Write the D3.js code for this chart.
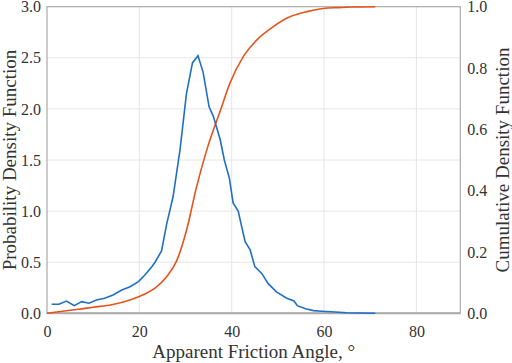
<!DOCTYPE html>
<html><head><meta charset="utf-8">
<script src="https://cdn.jsdelivr.net/npm/d3@7"></script>
<style>body{margin:0;background:#fff}svg{display:block}</style>
</head><body><svg id="c" width="512" height="363"></svg>
<script>
const xTicks = [0, 20, 40, 60, 80];
const pdfTicks = [0, 0.5, 1.0, 1.5, 2.0, 2.5, 3.0];
const cdfTicks = [0, 0.2, 0.4, 0.6, 0.8, 1.0];
const pdfX = [1.0,2.6,4.2,5.9,7.5,9.1,10.7,12.5,14.3,16.2,18.0,19.8,21.2,22.7,23.4,24.8,25.9,27.3,28.8,30.2,31.5,32.7,33.8,35.1,36.0,37.5,38.4,39.5,40.3,41.4,42.9,44.0,45.0,46.5,47.9,49.7,51.9,53.5,54.2,56.0,57.7,59.5,62.4,64.9,67.8,71.1];
const pdfY = [0.088,0.088,0.12,0.075,0.114,0.098,0.13,0.147,0.18,0.228,0.26,0.31,0.375,0.456,0.50,0.61,0.87,1.14,1.60,2.15,2.45,2.52,2.36,2.02,1.93,1.70,1.50,1.32,1.08,1.00,0.70,0.62,0.456,0.39,0.29,0.21,0.147,0.12,0.075,0.045,0.026,0.02,0.013,0.006,0.003,0.0];
const cdfX = [0,3,6.8,10,14.0,18.3,21.2,23.4,25.9,28.1,30.2,32.4,34.6,37.6,39.6,42.5,45.4,49.0,52.6,56.3,59.8,63,66,71.1];
const cdfY = [0,0.006,0.013,0.02,0.028,0.045,0.063,0.082,0.119,0.172,0.27,0.413,0.533,0.664,0.75,0.837,0.891,0.935,0.967,0.984,0.994,0.997,0.999,1.0];

const FONT = '"Liberation Serif", monospace';
const svg = d3.select("#c");
const L = 47, R = 460.3, T = 6.7, B = 313.3;
const x = d3.scaleLinear().domain([0, 89.5]).range([L, R]);
const yL = d3.scaleLinear().domain([0, 3]).range([B, T]);
const yR = d3.scaleLinear().domain([0, 1]).range([B, T]);

// grid
svg.append("g").selectAll("line").data(xTicks.filter(d => d > 0)).join("line")
  .attr("x1", d => x(d)).attr("x2", d => x(d)).attr("y1", T).attr("y2", B)
  .attr("stroke", "#e6e6e6").attr("stroke-width", 1);
svg.append("g").selectAll("line").data(pdfTicks.filter(d => d > 0 && d < 3)).join("line")
  .attr("x1", L).attr("x2", R).attr("y1", d => yL(d)).attr("y2", d => yL(d))
  .attr("stroke", "#e6e6e6").attr("stroke-width", 1);

// frame
svg.append("rect").attr("x", L).attr("y", T).attr("width", R - L).attr("height", B - T)
  .attr("fill", "none").attr("stroke", "#aaaaaa").attr("stroke-width", 1.2);
svg.append("line").attr("x1", L).attr("x2", R).attr("y1", B).attr("y2", B)
  .attr("stroke", "#aaaaaa").attr("stroke-width", 2);

// axes (labels only)
const ax = svg.append("g").attr("transform", `translate(0,${B})`)
  .call(d3.axisBottom(x).tickValues(xTicks).tickSize(0).tickPadding(12).tickFormat(d3.format("d")));
const al = svg.append("g").attr("transform", `translate(${L},0)`)
  .call(d3.axisLeft(yL).tickValues(pdfTicks).tickSize(0).tickPadding(6).tickFormat(d3.format(".1f")));
const ar = svg.append("g").attr("transform", `translate(${R},0)`)
  .call(d3.axisRight(yR).tickValues(cdfTicks).tickSize(0).tickPadding(7).tickFormat(d3.format(".1f")));
[ax, al, ar].forEach(g => {
  g.select(".domain").remove();
  g.attr("font-family", null).attr("font-size", null);
  g.selectAll("text").style("font-family", FONT).style("font-size", "16px").attr("fill", "#333");
});

// lines
const pdfData = pdfX.map((d, i) => [d, pdfY[i]]);
const cdfData = cdfX.map((d, i) => [d, cdfY[i]]);
svg.append("path").datum(cdfData)
  .attr("d", d3.line().x(d => x(d[0])).y(d => yR(d[1])).curve(d3.curveMonotoneX))
  .attr("fill", "none").attr("stroke", "#e5531e").attr("stroke-width", 1.6);
svg.append("path").datum(pdfData)
  .attr("d", d3.line().x(d => x(d[0])).y(d => yL(d[1])))
  .attr("fill", "none").attr("stroke", "#1f6fc4").attr("stroke-width", 1.6);

// titles
const title = (tr, s) => svg.append("text").attr("transform", tr).attr("text-anchor", "middle")
  .style("font-family", FONT).style("font-size", "19px").attr("fill", "#333").text(s);
title(`translate(${(L + R) / 2},358)`, "Apparent Friction Angle, °");
title(`translate(16,${(T + B) / 2}) rotate(-90)`, "Probability Density Function");
title(`translate(509,${(T + B) / 2}) rotate(-90)`, "Cumulative Density Function");
</script></body></html>
